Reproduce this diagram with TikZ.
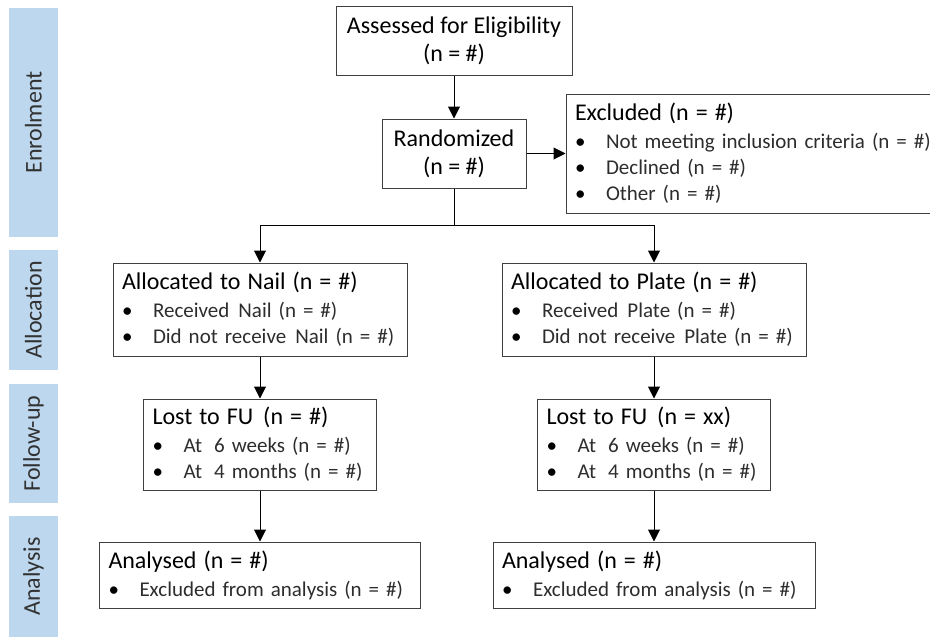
\documentclass[tikz,border=0pt]{standalone}
\usepackage{fontspec}
\setmainfont{Carlito}
\usetikzlibrary{positioning, arrows.meta}
\definecolor{stageblue}{RGB}{189,215,238}
\definecolor{stagetext}{RGB}{50,50,50}
\definecolor{itemtext}{RGB}{45,45,45}
\definecolor{boxline}{RGB}{64,64,64}
\newcommand{\headfont}{\fontsize{24}{28}\selectfont}
\newcommand{\itemfont}{\fontsize{21}{26}\selectfont}
\newcommand{\bul}[1]{\mbox{\makebox[31pt][l]{\textbullet}{\color{itemtext}#1}}}
\tikzset{
  >={Triangle[length=12pt,width=12pt]}, % filled arrow heads
  stage/.style={fill=stageblue, rotate=90, inner sep=0pt, minimum height=49pt,
    text=stagetext, font=\headfont},
  mainbox/.style={draw=boxline, line width=1pt, align=center, inner sep=0pt, font=\headfont},
  listbox/.style={draw=boxline, line width=1pt, align=left, inner xsep=9pt, inner ysep=0pt,
    font=\itemfont},
  flow/.style={->, line width=1pt}
}

\begin{document}
\begin{tikzpicture}[x=1pt, y=-1pt]
  \useasboundingbox (0,0) rectangle (930,638);

  % Stage bars
  \node[stage, minimum width=229pt] (enrol) at (33.5,122.5) {Enrolment};
  \node[stage, minimum width=120pt] (alloc) at (33.5,310) {Allocation};
  \node[stage, minimum width=119pt] (follow) at (33.5,443.5) {Follow-up};
  \node[stage, minimum width=121pt] (analysis) at (33.5,576.5) {Analysis};

  % Enrolment
  \node[mainbox, minimum width=236pt, minimum height=69pt] (assess) at (454,40.5)
    {Assessed for Eligibility\\(n = \#)};
  \node[mainbox, minimum width=144pt, minimum height=69pt] (rand) at (454,153.5)
    {Randomized\\(n = \#)};
  \node[listbox, text width=360pt, minimum height=119pt] (excl) at (755,153.5)
    {{\headfont Excluded (n = \#)}\\[2pt]
     \bul{Not meeting inclusion criteria (n = \#)}\\
     \bul{Declined (n = \#)}\\
     \bul{Other (n = \#)}};
  \coordinate (split) at (454,225);

  % Allocation
  \node[listbox, text width=276pt, minimum height=93pt] (nailalloc) at (260,309.5)
    {{\headfont Allocated to Nail (n = \#)}\\[2pt]
     \bul{Received\hspace{9pt}Nail (n = \#)}\\
     \bul{Did not receive\hspace{9pt}Nail (n = \#)}};
  \node[listbox, text width=286pt, minimum height=93pt] (platealloc) at (654,309.5)
    {{\headfont Allocated to Plate (n = \#)}\\[2pt]
     \bul{Received\hspace{9pt}Plate (n = \#)}\\
     \bul{Did not receive\hspace{9pt}Plate (n = \#)}};

  % Follow-up
  \node[listbox, text width=215pt, minimum height=91pt] (naillost) at (260,444.5)
    {{\headfont Lost to FU\hspace{10pt}(n = \#)}\\[2pt]
     \bul{At\hspace{12pt}6 weeks (n = \#)}\\
     \bul{At\hspace{12pt}4 months (n = \#)}};
  \node[listbox, text width=215pt, minimum height=91pt] (platelost) at (654,444.5)
    {{\headfont Lost to FU\hspace{10pt}(n = xx)}\\[2pt]
     \bul{At\hspace{12pt}6 weeks (n = \#)}\\
     \bul{At\hspace{12pt}4 months (n = \#)}};

  % Analysis
  \node[listbox, text width=303pt, minimum height=66pt] (nailanal) at (260,575)
    {{\headfont Analysed (n = \#)}\\[2pt]
     \bul{Excluded from analysis (n = \#)}};
  \node[listbox, text width=304pt, minimum height=66pt] (plateanal) at (654,575)
    {{\headfont Analysed (n = \#)}\\[2pt]
     \bul{Excluded from analysis (n = \#)}};

  % Connectors
  \draw[flow] (assess) -- (rand);
  \draw[flow] (rand) -- (excl);
  \draw[line width=1pt] (rand) -- (split);
  \draw[flow] (split) -| (nailalloc);
  \draw[flow] (split) -| (platealloc);
  \draw[flow] (nailalloc) -- (naillost);
  \draw[flow] (platealloc) -- (platelost);
  \draw[flow] (naillost) -- (nailanal);
  \draw[flow] (platelost) -- (plateanal);

\end{tikzpicture}
\end{document}
